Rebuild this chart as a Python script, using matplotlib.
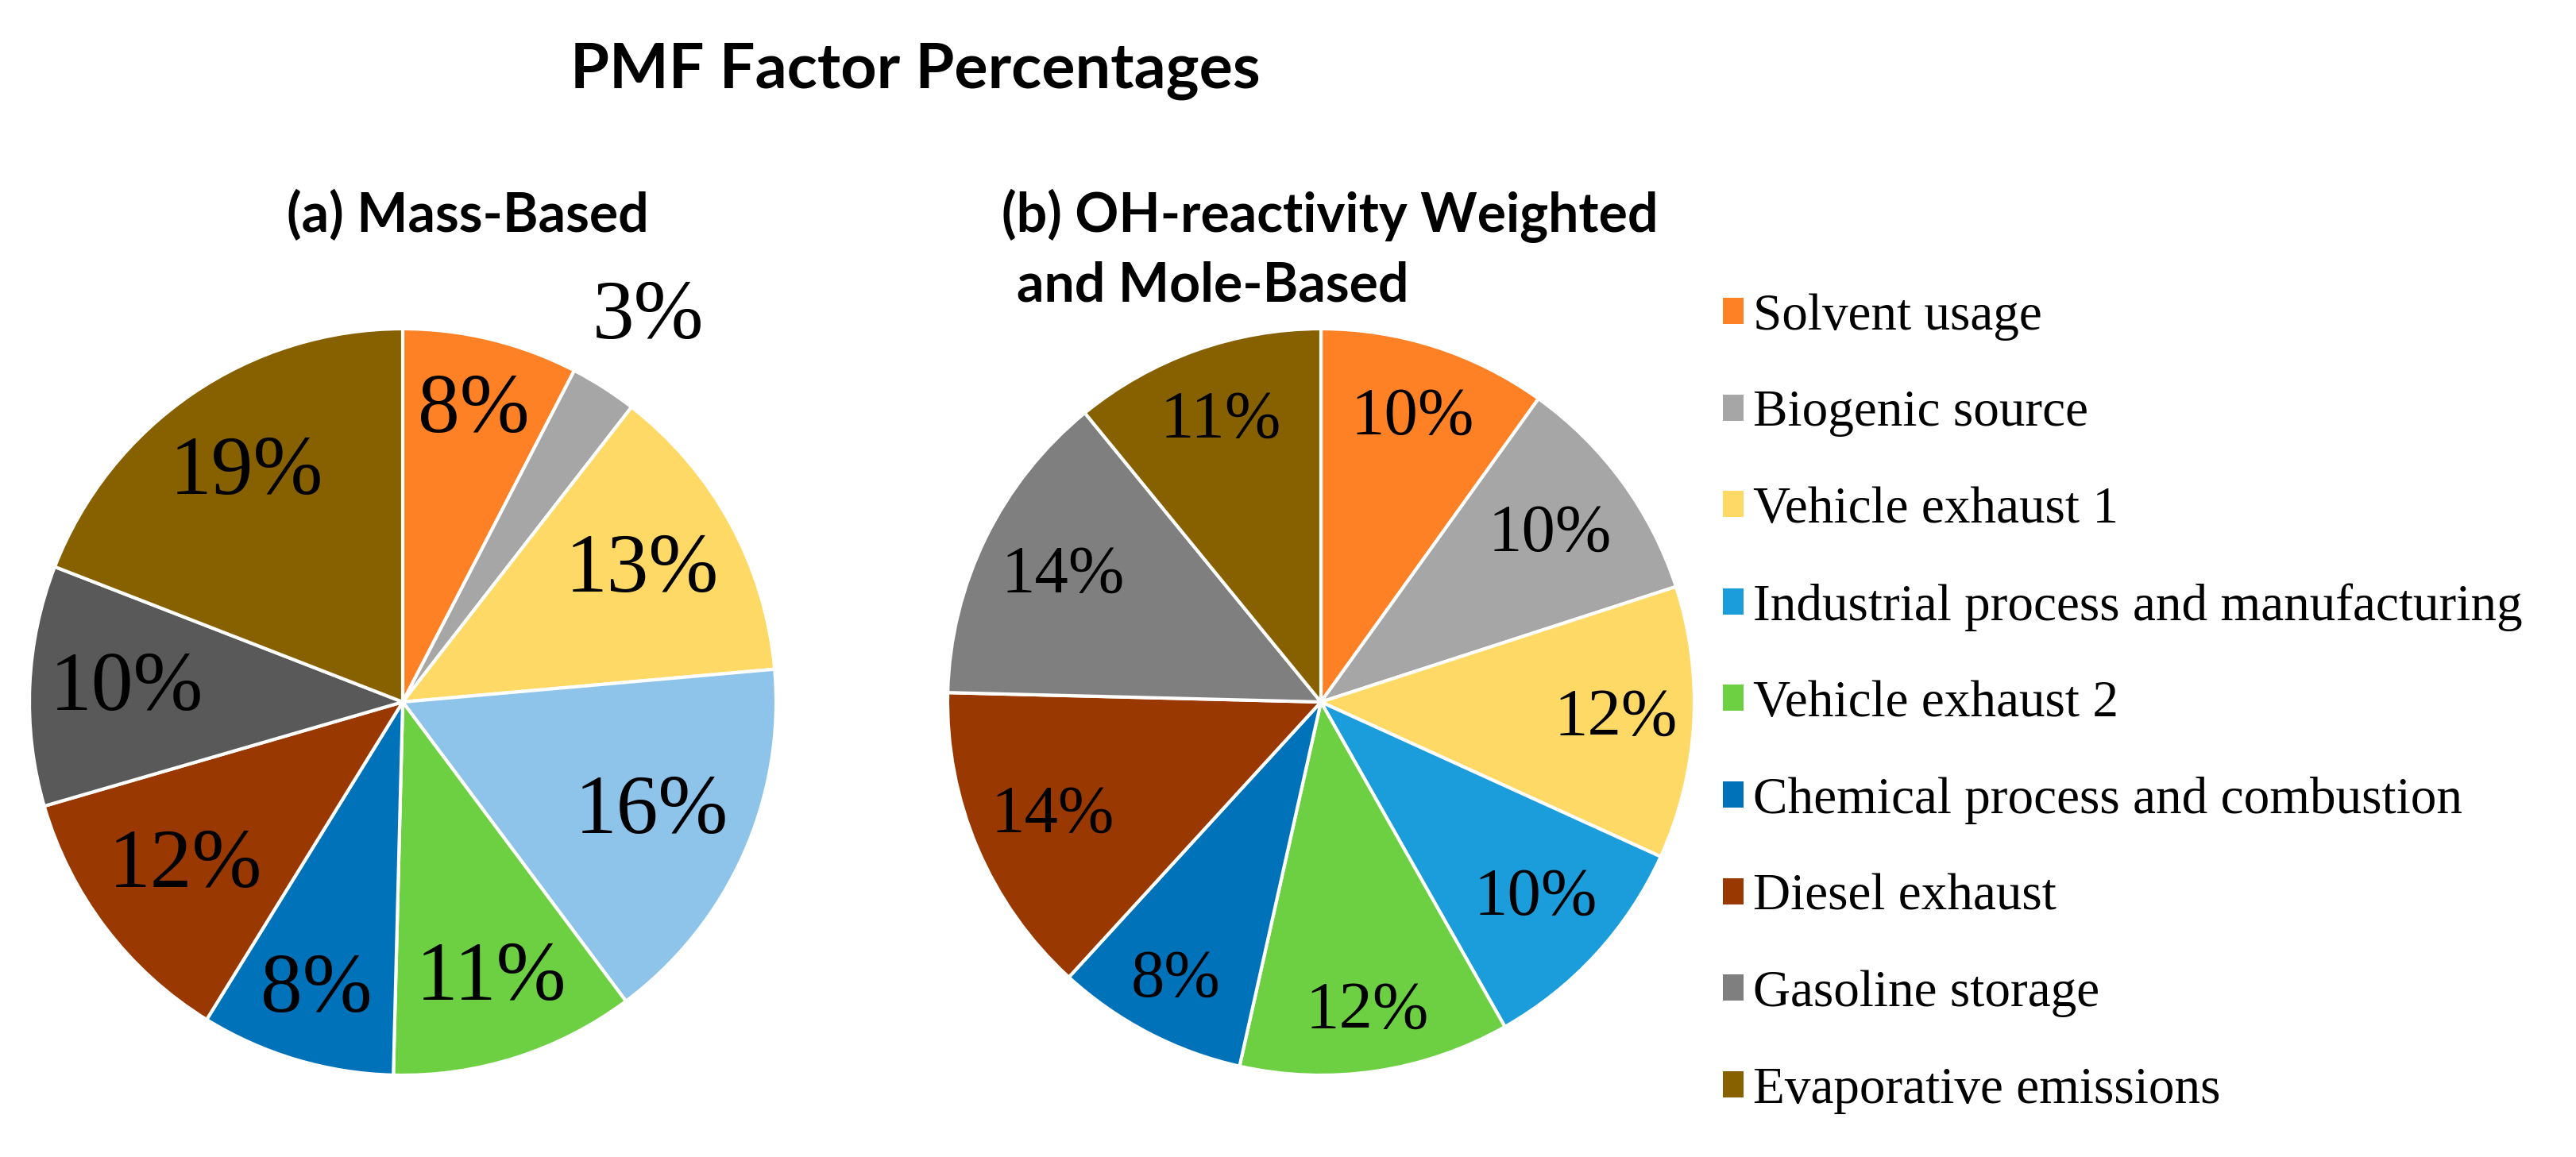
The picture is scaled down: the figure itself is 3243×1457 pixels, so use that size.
import numpy as np
import matplotlib
matplotlib.use('Agg')
import matplotlib.pyplot as plt
from matplotlib.patches import Patch

# factor names (legend order)
factors = ['Solvent usage', 'Biogenic source', 'Vehicle exhaust 1',
           'Industrial process and manufacturing', 'Vehicle exhaust 2',
           'Chemical process and combustion', 'Diesel exhaust',
           'Gasoline storage', 'Evaporative emissions']

# percentages read from the wedges
mass_pct = [7.6, 2.9, 13.1, 16.2, 10.6, 8.4, 11.7, 10.4, 19.1]
oh_pct = [9.9, 10.1, 11.8, 10.0, 11.7, 8.3, 13.6, 13.7, 10.9]

colors_a = ['#FF8126', '#A6A6A6', '#FFD965', '#8EC4EA', '#6DD043',
            '#0072BA', '#993800', '#595959', '#876100']
colors_b = ['#FF8126', '#A6A6A6', '#FFD965', '#1B9DDB', '#6DD043',
            '#0072BA', '#993800', '#7F7F7F', '#876100']

# radial position of each percentage label (fraction of radius)
dist_a = [0.80, 1.22, 0.73, 0.73, 0.78, 0.81, 0.73, 0.74, 0.74]
dist_b = [0.80, 0.76, 0.79, 0.78, 0.84, 0.84, 0.78, 0.77, 0.80]

W, H = 3243, 1457
fig = plt.figure(figsize=(W / 100, H / 100), dpi=100)

sans = 'Lato'
serif = 'Liberation Serif'


def pie_axes(cx, cy, r):
    return fig.add_axes([(cx - r) / W, (H - cy - r) / H, 2 * r / W, 2 * r / H])


def draw_pie(ax, vals, cols, dists, fs):
    wedges, _ = ax.pie(vals, colors=cols, startangle=90, counterclock=False,
                       radius=1.0, wedgeprops=dict(edgecolor='white', linewidth=3))
    for w, v, d in zip(wedges, vals, dists):
        ang = np.deg2rad((w.theta1 + w.theta2) / 2)
        ax.text(d * np.cos(ang), d * np.sin(ang), f'{v:.0f}%', ha='center', va='center',
                fontsize=fs, family=serif, color='black')
    ax.set_xlim(-1, 1)
    ax.set_ylim(-1, 1)
    ax.set_aspect('equal')
    ax.axis('off')


ax1 = pie_axes(507, 884, 470)
draw_pie(ax1, mass_pct, colors_a, dist_a, 76)

ax2 = pie_axes(1663, 884, 470)
draw_pie(ax2, oh_pct, colors_b, dist_b, 61)

fig.text(1152 / W, 1 - 111 / H, 'PMF Factor Percentages', ha='center', va='baseline',
         fontsize=57, fontweight='bold', family=sans)
fig.text(589 / W, 1 - 292 / H, '(a) Mass-Based', ha='center', va='baseline',
         fontsize=49, fontweight='bold', family=sans)
fig.text(1261 / W, 1 - 292 / H, '(b) OH-reactivity Weighted', ha='left', va='baseline',
         fontsize=49, fontweight='bold', family=sans)
fig.text(1280 / W, 1 - 379 / H, 'and Mole-Based', ha='left', va='baseline',
         fontsize=49, fontweight='bold', family=sans)

handles = [Patch(facecolor=c, edgecolor='none') for c in colors_b]
fig.legend(handles, factors, loc='center left', bbox_to_anchor=(2169 / W, 1 - 886 / H),
           frameon=False, borderpad=0, borderaxespad=0, handlelength=0.4,
           handleheight=0.4, handletextpad=0.18, labelspacing=0.95,
           prop=dict(family=serif, size=47))

fig.savefig('out.png', dpi=100, facecolor='white')
